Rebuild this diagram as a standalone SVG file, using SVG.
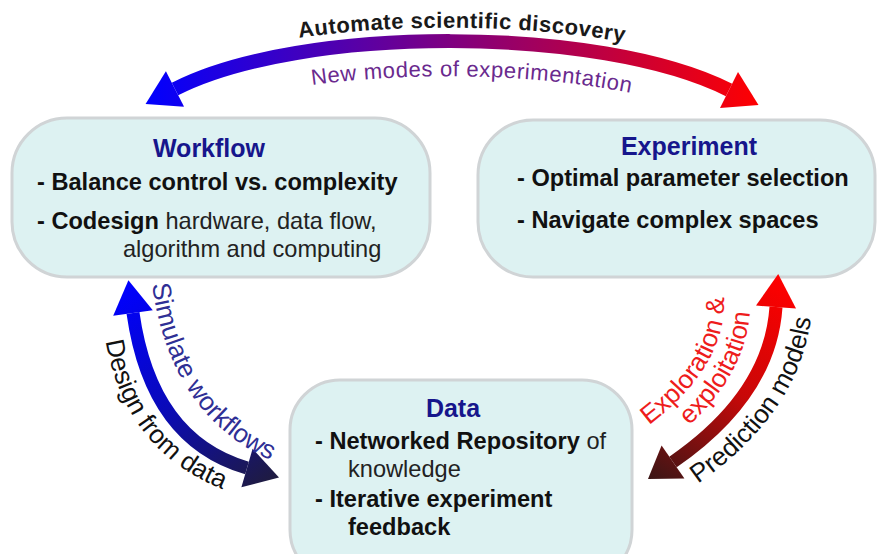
<svg xmlns="http://www.w3.org/2000/svg" xmlns:xlink="http://www.w3.org/1999/xlink" width="880" height="554" viewBox="0 0 880 554">
<style>
.box{fill:#ddf2f2;stroke:#d0d4d6;stroke-width:3}
.t{font-family:"Liberation Sans",Arial,sans-serif}
.title{font-weight:bold;font-size:25px;fill:#16168c;text-anchor:middle}
.b{font-weight:bold;font-size:23.6px;fill:#111}
.r{font-weight:normal;font-size:23.6px;fill:#222}
.lbl{font-size:26px}
</style>
<defs>
<linearGradient id="gTop" gradientUnits="userSpaceOnUse" x1="145" y1="0" x2="760" y2="0">
<stop offset="0" stop-color="#0000ff"/><stop offset="1" stop-color="#ff0000"/>
</linearGradient>
<linearGradient id="gLeft" gradientUnits="userSpaceOnUse" x1="128" y1="280" x2="282" y2="478">
<stop offset="0" stop-color="#0000ff"/><stop offset="0.5" stop-color="#0a0ab8"/><stop offset="1" stop-color="#201c3c"/>
</linearGradient>
<linearGradient id="gRight" gradientUnits="userSpaceOnUse" x1="778" y1="275" x2="648" y2="479">
<stop offset="0" stop-color="#ff0000"/><stop offset="0.5" stop-color="#c80808"/><stop offset="1" stop-color="#3a1616"/>
</linearGradient>
<path id="pAuto" d="M165,74 C295,12 605,12 740,76"/>
<path id="pNew" d="M150,130 C290,58 610,58 750,132"/>
<path id="pSim" d="M151,276 Q168,423 285,466 L300,472"/>
<path id="pDes" d="M104,330 Q121,456 236,494 L250,499"/>
<path id="pExp2" d="M662.8,447.2 Q748.8,383 750,305.2 L751,260"/>
<path id="pExp1" d="M648,425.8 Q723.8,368.8 724,303.5 L725,250"/>
<path id="pPred" d="M691.2,488.3 Q802.7,413.6 812,309.4 L814,280"/>
</defs>

<g id="workflow">
<rect class="box" x="12" y="118" width="418" height="159" rx="55"/>
<text class="t title" x="209" y="157">Workflow</text>
<text class="t b" x="37" y="190">- Balance control vs. complexity</text>
<text class="t b" x="37" y="229">- Codesign<tspan class="r"> hardware, data flow,</tspan></text>
<text class="t r" x="123" y="257">algorithm and computing</text>
</g>

<g id="experiment">
<rect class="box" x="478" y="120" width="397" height="157" rx="55"/>
<text class="t title" x="689" y="155">Experiment</text>
<text class="t b" x="517" y="186">- Optimal parameter selection</text>
<text class="t b" x="517" y="228">- Navigate complex spaces</text>
</g>

<g id="data">
<rect class="box" x="290" y="380" width="342" height="200" rx="50"/>
<text class="t title" x="453" y="417">Data</text>
<text class="t b" x="315" y="449">- Networked Repository<tspan class="r"> of</tspan></text>
<text class="t r" x="348" y="477">knowledge</text>
<text class="t b" x="315" y="507">- Iterative experiment</text>
<text class="t b" x="348" y="535">feedback</text>
</g>

<g id="connectors">
<g id="arrow-top">
<path d="M175,89 C300,25 600,25 729,90" fill="none" stroke="url(#gTop)" stroke-width="14"/>
<polygon points="145.6,104 184.1,106.8 165.9,71.2" fill="url(#gTop)"/>
<polygon points="758.5,105 720,107.9 738,72.1" fill="url(#gTop)"/>
<text class="t" font-size="22" font-weight="bold" fill="#1a1a1a" letter-spacing="0.5"><textPath href="#pAuto" xlink:href="#pAuto" startOffset="51.6%" text-anchor="middle">Automate scientific discovery</textPath></text>
<text class="t" font-size="22" fill="#6a2a8e" letter-spacing="0.6"><textPath href="#pNew" xlink:href="#pNew" startOffset="53.5%" text-anchor="middle">New modes of experimentation</textPath></text>
</g>
<g id="arrow-left">
<path d="M133,313 Q151,440 247,468" fill="none" stroke="url(#gLeft)" stroke-width="13"/>
<polygon points="128.4,280.3 152.8,310.2 113.2,315.8" fill="url(#gLeft)"/>
<polygon points="279,477.5 241.4,487.2 252.6,448.8" fill="url(#gLeft)"/>
<text class="t lbl" fill="#2f2f95"><textPath href="#pSim" xlink:href="#pSim" startOffset="8">Simulate workflows</textPath></text>
<text class="t lbl" fill="#111"><textPath href="#pDes" xlink:href="#pDes" startOffset="11">Design from data</textPath></text>
</g>
<g id="arrow-right">
<path d="M776,307 Q770,395 673,462" fill="none" stroke="url(#gRight)" stroke-width="13"/>
<polygon points="778.2,274 756,305.6 796,308.4" fill="url(#gRight)"/>
<polygon points="648,479 684.4,478.5 661.6,445.5" fill="url(#gRight)"/>
<text class="t lbl" fill="#ee1c1c"><textPath href="#pExp1" xlink:href="#pExp1" startOffset="1">Exploration &amp;</textPath></text>
<text class="t lbl" fill="#ee1c1c"><textPath href="#pExp2" xlink:href="#pExp2" startOffset="34">exploitation</textPath></text>
<text class="t lbl" fill="#111"><textPath href="#pPred" xlink:href="#pPred" startOffset="8">Prediction models</textPath></text>
</g>
</g>
</svg>
